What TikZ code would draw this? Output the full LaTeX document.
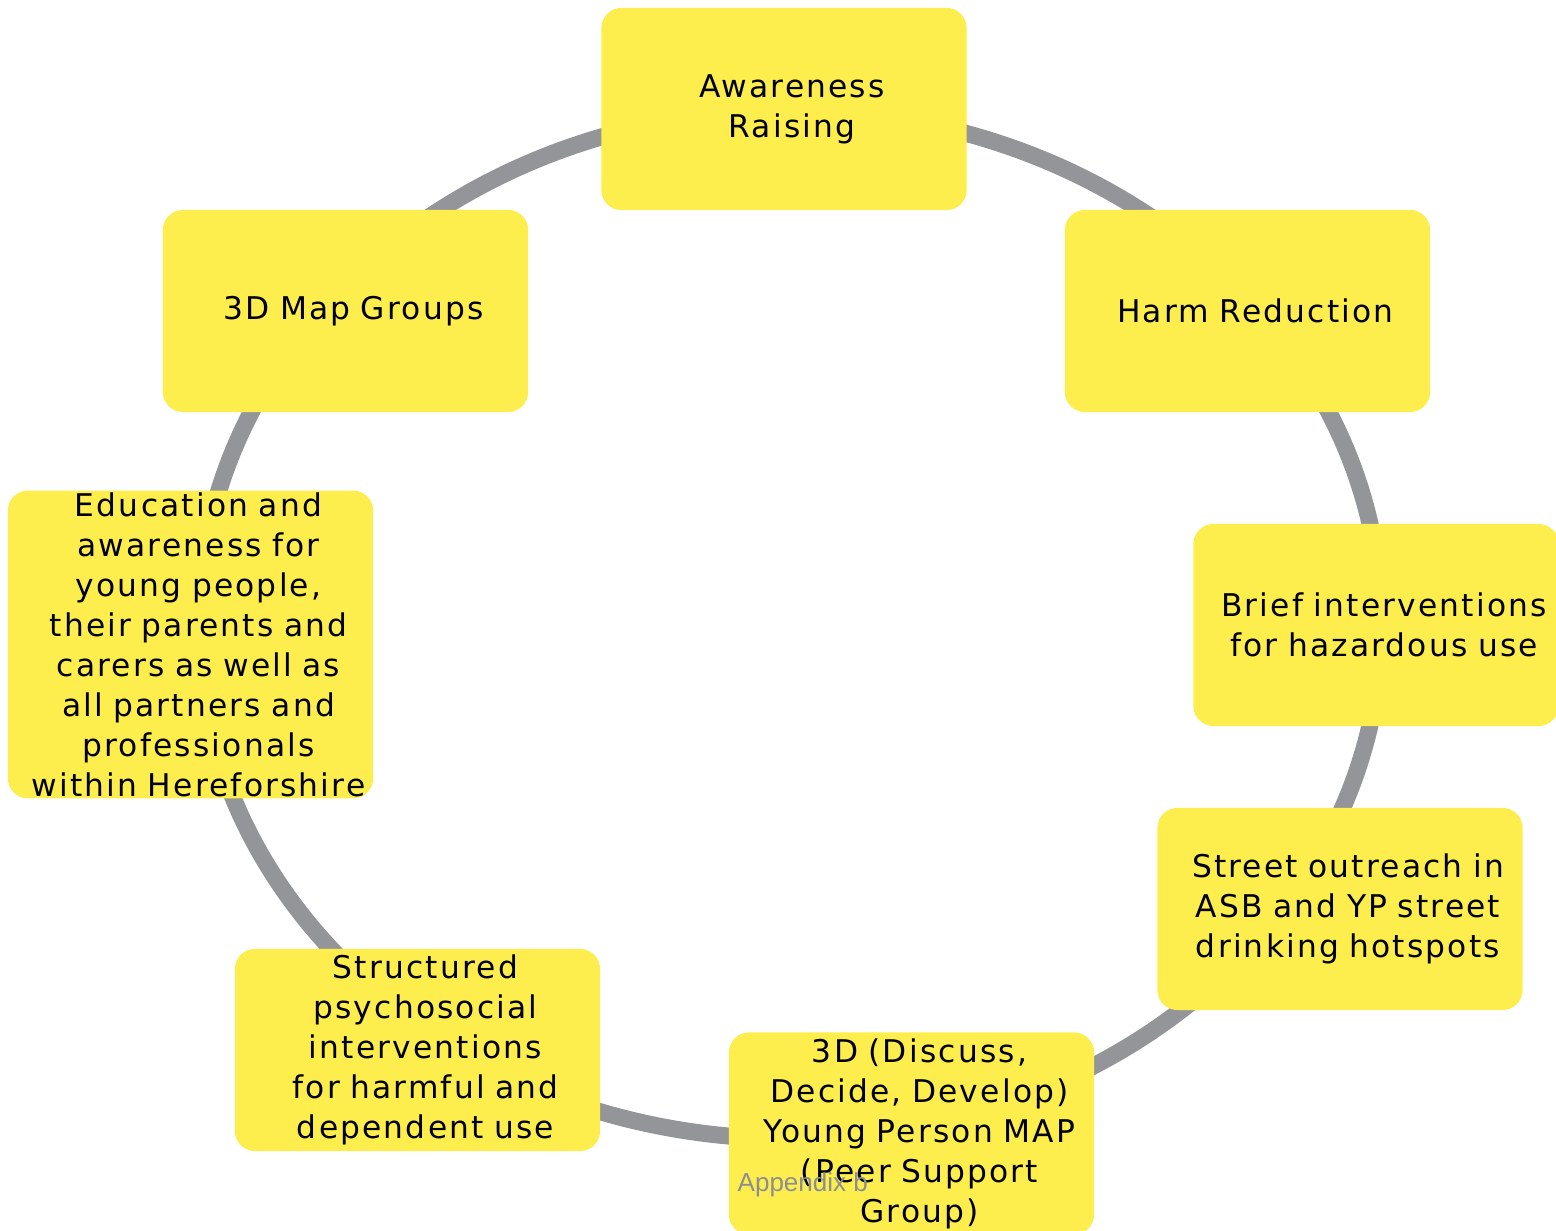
\documentclass[tikz,border=0pt]{standalone}
\usepackage{fontspec}
\setmainfont{DejaVu Sans}[LetterSpace=7]
\newfontfamily\notefont{Liberation Sans}
\definecolor{stageyellow}{RGB}{253,238,77}
\definecolor{ringgray}{RGB}{147,149,152}
\definecolor{notegray}{RGB}{140,142,145}
\begin{document}
\begin{tikzpicture}[x=0.01cm,y=-0.01cm,
  stage/.style={fill=stageyellow,rounded corners=0.2cm,minimum width=3.65cm,minimum height=2.02cm,
    inner xsep=0pt,inner ysep=0.5pt,text width=3.65cm,align=center,
    execute at begin node={\leftskip=0.16cm plus 1fil\rightskip=0pt plus 1fil\parfillskip=0pt},
    font=\fontsize{8.9}{11.38}\selectfont}]
% Frame
\useasboundingbox (0,0) rectangle (1556,1231);

% Ring
\draw[ringgray,line width=0.17cm] (790,624.5) ellipse [x radius=5.91cm,y radius=5.14cm];

% Stages
\node[stage] (aware) at (784,109) {Awareness\\Raising};
\node[stage] (harm) at (1247.5,311) {Harm Reduction};
\node[stage] (brief) at (1376,625) {Brief interventions\\for hazardous use};
\node[stage] (street) at (1340,909) {Street outreach in\\ASB and YP street\\drinking hotspots};
\node[stage] (youngmap) at (911.5,1133.5) {3D (Discuss,\\Decide, Develop)\\Young Person MAP\\(Peer Support\\Group)};
\node[stage] (struct) at (417.5,1050) {Structured\\psychosocial\\interventions\\for harmful and\\dependent use};
\node[stage] (edu) at (190.5,644.5) {Education and\\awareness for\\young people,\\their parents and\\carers as well as\\all partners and\\professionals\\within Hereforshire};
\node[stage] (mapgroups) at (345.5,311) {3D Map Groups};

% Note
\node[notegray,anchor=west,inner sep=0pt,font=\notefont\fontsize{7.4}{9}\selectfont] (appendix) at (737,1185) {Appendix b};
\end{tikzpicture}
\end{document}
